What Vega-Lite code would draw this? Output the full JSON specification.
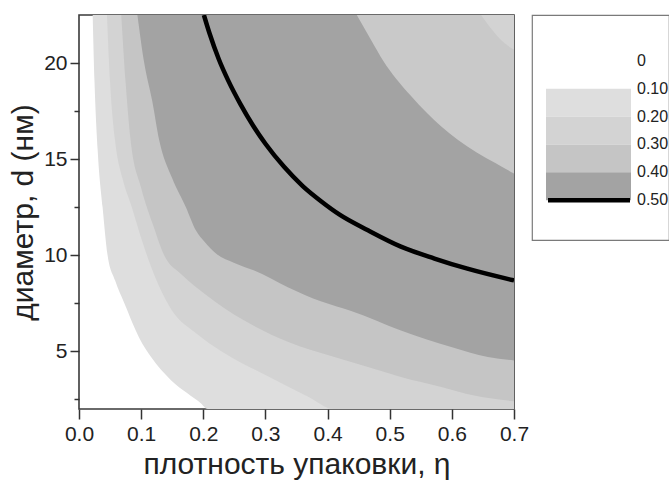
{
  "$schema": "https://vega.github.io/schema/vega-lite/v6.json",
  "padding": {"left": 7, "top": 14, "right": 0, "bottom": 0},
  "spacing": 18,
  "bounds": "flush",
  "config": {"font": "Liberation Sans", "view": {"stroke": null}},
  "datasets": {
    "b1": [
      {"eta": 0.022, "d": 22.5}, {"eta": 0.025, "d": 19}, {"eta": 0.03, "d": 15.5}, {"eta": 0.038, "d": 12.5},
      {"eta": 0.046, "d": 10}, {"eta": 0.058, "d": 8.7}, {"eta": 0.073, "d": 7.5}, {"eta": 0.097, "d": 5.7},
      {"eta": 0.116, "d": 4.7}, {"eta": 0.148, "d": 3.5}, {"eta": 0.175, "d": 2.8}, {"eta": 0.196, "d": 2.3},
      {"eta": 0.207, "d": 2.0}, {"eta": 0.7, "d": 2.0}
    ],
    "b2": [
      {"eta": 0.045, "d": 22.5}, {"eta": 0.05, "d": 19}, {"eta": 0.058, "d": 16}, {"eta": 0.07, "d": 14},
      {"eta": 0.085, "d": 12.5}, {"eta": 0.1, "d": 10.9}, {"eta": 0.116, "d": 9.4}, {"eta": 0.148, "d": 7.2},
      {"eta": 0.19, "d": 5.9}, {"eta": 0.229, "d": 5.0}, {"eta": 0.304, "d": 3.7}, {"eta": 0.368, "d": 2.65},
      {"eta": 0.41, "d": 2.0}, {"eta": 0.7, "d": 2.0}
    ],
    "b3": [
      {"eta": 0.068, "d": 22.5}, {"eta": 0.075, "d": 19}, {"eta": 0.083, "d": 16}, {"eta": 0.1, "d": 13.5},
      {"eta": 0.12, "d": 11.5}, {"eta": 0.137, "d": 10}, {"eta": 0.165, "d": 9}, {"eta": 0.202, "d": 8.0},
      {"eta": 0.266, "d": 6.6}, {"eta": 0.336, "d": 5.5}, {"eta": 0.411, "d": 4.7}, {"eta": 0.465, "d": 4.18},
      {"eta": 0.518, "d": 3.67}, {"eta": 0.583, "d": 3.15}, {"eta": 0.636, "d": 2.7}, {"eta": 0.7, "d": 2.4}
    ],
    "b4lo": [
      {"eta": 0.094, "d": 22.5}, {"eta": 0.105, "d": 20}, {"eta": 0.118, "d": 18}, {"eta": 0.129, "d": 16},
      {"eta": 0.15, "d": 14}, {"eta": 0.172, "d": 12.5}, {"eta": 0.188, "d": 11.3}, {"eta": 0.202, "d": 10.7},
      {"eta": 0.22, "d": 10.1}, {"eta": 0.25, "d": 9.6}, {"eta": 0.282, "d": 9.2}, {"eta": 0.336, "d": 8.34},
      {"eta": 0.389, "d": 7.6}, {"eta": 0.438, "d": 7.1}, {"eta": 0.518, "d": 6.09}, {"eta": 0.599, "d": 5.22},
      {"eta": 0.658, "d": 4.7}, {"eta": 0.7, "d": 4.53}
    ],
    "b4hi": [
      {"eta": 0.447, "d": 22.5}, {"eta": 0.47, "d": 21.2}, {"eta": 0.49, "d": 20.1}, {"eta": 0.51, "d": 19.2},
      {"eta": 0.534, "d": 18.3}, {"eta": 0.56, "d": 17.4}, {"eta": 0.583, "d": 16.7}, {"eta": 0.61, "d": 16.0},
      {"eta": 0.64, "d": 15.35}, {"eta": 0.67, "d": 14.8}, {"eta": 0.7, "d": 14.25}
    ],
    "b2tr": [
      {"eta": 0.647, "d": 22.5}, {"eta": 0.668, "d": 21.6}, {"eta": 0.684, "d": 21.05}, {"eta": 0.7, "d": 20.7}
    ],
    "c05": [
      {"eta": 0.201, "d": 22.5}, {"eta": 0.21, "d": 21.55}, {"eta": 0.225, "d": 20.2}, {"eta": 0.24, "d": 19.1},
      {"eta": 0.26, "d": 17.85}, {"eta": 0.28, "d": 16.75}, {"eta": 0.3, "d": 15.8}, {"eta": 0.33, "d": 14.6},
      {"eta": 0.36, "d": 13.6}, {"eta": 0.39, "d": 12.8}, {"eta": 0.42, "d": 12.1}, {"eta": 0.465, "d": 11.3},
      {"eta": 0.518, "d": 10.45}, {"eta": 0.572, "d": 9.83}, {"eta": 0.625, "d": 9.3}, {"eta": 0.7, "d": 8.69}
    ],
    "legend_bands": [
      {"lo": 0.1, "hi": 0.2, "band": "0.10-0.20"},
      {"lo": 0.2, "hi": 0.3, "band": "0.20-0.30"},
      {"lo": 0.3, "hi": 0.4, "band": "0.30-0.40"},
      {"lo": 0.4, "hi": 0.5, "band": "0.40-0.50"}
    ],
    "legend_line": [{"level": 0.5}],
    "legend_labels": [
      {"level": 0, "label": "0"}, {"level": 0.1, "label": "0.10"}, {"level": 0.2, "label": "0.20"},
      {"level": 0.3, "label": "0.30"}, {"level": 0.4, "label": "0.40"}, {"level": 0.5, "label": "0.50"}
    ]
  },
  "hconcat": [
    {
      "width": 435,
      "height": 394,
      "view": {"stroke": "#3a3a3a", "strokeWidth": 1.6},
      "layer": [
        {
          "data": {"name": "b1"},
          "mark": {"type": "area", "color": "#dedede", "clip": true, "interpolate": "monotone"},
          "encoding": {
            "x": {
              "field": "eta", "type": "quantitative",
              "scale": {"domain": [0, 0.7], "nice": false, "zero": false},
              "axis": {
                "title": "плотность упаковки, η",
                "values": [0, 0.05, 0.1, 0.15, 0.2, 0.25, 0.3, 0.35, 0.4, 0.45, 0.5, 0.55, 0.6, 0.65, 0.7],
                "labelExpr": "abs(datum.value*10 - round(datum.value*10)) < 0.001 ? format(datum.value, '.1f') : ''",
                "tickSize": {"condition": {"test": "abs(datum.value*10 - round(datum.value*10)) < 0.001", "value": 10}, "value": 6},
                "tickColor": "#333", "tickWidth": 1.5,
                "domain": false, "grid": false,
                "labelFontSize": 21, "labelColor": "#222", "labelPadding": 4,
                "labelOverlap": false, "labelFlush": false,
                "titleFontSize": 30, "titleFontWeight": "normal", "titleColor": "#222", "titlePadding": 5
              }
            },
            "y": {
              "field": "d", "type": "quantitative",
              "scale": {"domain": [2, 22.5], "nice": false, "zero": false},
              "axis": {
                "title": "диаметр, d (нм)",
                "values": [2.5, 5, 7.5, 10, 12.5, 15, 17.5, 20],
                "labelExpr": "datum.value % 5 == 0 ? datum.label : ''",
                "tickSize": {"condition": {"test": "datum.value % 5 == 0", "value": 9}, "value": 5},
                "tickColor": "#333", "tickWidth": 1.5,
                "domain": false, "grid": false,
                "labelFontSize": 21, "labelColor": "#222", "labelPadding": 3,
                "labelOverlap": false,
                "titleFontSize": 30, "titleFontWeight": "normal", "titleColor": "#222", "titlePadding": 5
              }
            },
            "y2": {"datum": 22.5}
          }
        },
        {
          "data": {"name": "b2"},
          "mark": {"type": "area", "color": "#d3d3d3", "clip": true, "interpolate": "monotone"},
          "encoding": {"x": {"field": "eta", "type": "quantitative"}, "y": {"field": "d", "type": "quantitative"}, "y2": {"datum": 22.5}}
        },
        {
          "data": {"name": "b3"},
          "mark": {"type": "area", "color": "#c5c5c5", "clip": true, "interpolate": "monotone"},
          "encoding": {"x": {"field": "eta", "type": "quantitative"}, "y": {"field": "d", "type": "quantitative"}, "y2": {"datum": 22.5}}
        },
        {
          "data": {"name": "b4lo"},
          "mark": {"type": "area", "color": "#a3a3a3", "clip": true, "interpolate": "monotone"},
          "encoding": {"x": {"field": "eta", "type": "quantitative"}, "y": {"field": "d", "type": "quantitative"}, "y2": {"datum": 22.5}}
        },
        {
          "data": {"name": "b4hi"},
          "mark": {"type": "area", "color": "#c9c9c9", "clip": true, "interpolate": "monotone"},
          "encoding": {"x": {"field": "eta", "type": "quantitative"}, "y": {"field": "d", "type": "quantitative"}, "y2": {"datum": 22.5}}
        },
        {
          "data": {"name": "b2tr"},
          "mark": {"type": "area", "color": "#d3d3d3", "clip": true, "interpolate": "monotone"},
          "encoding": {"x": {"field": "eta", "type": "quantitative"}, "y": {"field": "d", "type": "quantitative"}, "y2": {"datum": 22.5}}
        },
        {
          "data": {"name": "c05"},
          "mark": {"type": "line", "color": "#000000", "strokeWidth": 4.5, "clip": true, "interpolate": "monotone"},
          "encoding": {"x": {"field": "eta", "type": "quantitative"}, "y": {"field": "d", "type": "quantitative"}}
        }
      ]
    },
    {
      "width": 137,
      "height": 225,
      "view": {"stroke": "#7a7a7a", "strokeWidth": 1.2},
      "layer": [
        {
          "data": {"name": "legend_bands"},
          "mark": {"type": "rect"},
          "encoding": {
            "x": {"datum": 14, "type": "quantitative", "scale": {"domain": [0, 137], "nice": false, "zero": false}, "axis": null},
            "x2": {"datum": 99},
            "y": {"field": "lo", "type": "quantitative", "scale": {"domain": [-0.165, 0.643], "reverse": true, "nice": false, "zero": false}, "axis": null},
            "y2": {"field": "hi"},
            "color": {
              "field": "band", "type": "nominal",
              "scale": {"domain": ["0.10-0.20", "0.20-0.30", "0.30-0.40", "0.40-0.50"], "range": ["#dedede", "#d3d3d3", "#c5c5c5", "#a3a3a3"]},
              "legend": null
            }
          }
        },
        {
          "data": {"name": "legend_line"},
          "mark": {"type": "rule", "color": "#000000", "strokeWidth": 4.5},
          "encoding": {
            "x": {"datum": 16, "type": "quantitative"},
            "x2": {"datum": 98},
            "y": {"field": "level", "type": "quantitative"}
          }
        },
        {
          "data": {"name": "legend_labels"},
          "mark": {"type": "text", "align": "left", "baseline": "middle", "fontSize": 16, "clip": true, "color": "#222"},
          "encoding": {
            "x": {"datum": 105, "type": "quantitative"},
            "y": {"field": "level", "type": "quantitative"},
            "text": {"field": "label"}
          }
        }
      ]
    }
  ]
}
